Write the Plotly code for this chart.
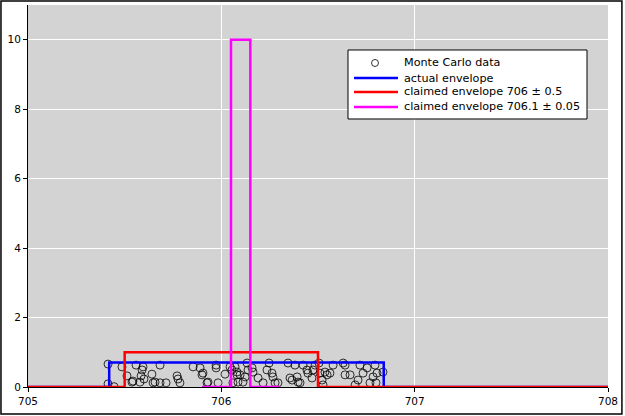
import plotly.graph_objects as go

# Monte Carlo sample points
mc_x = [705.414, 705.414, 705.445, 705.486, 705.512, 705.538, 705.543, 705.559, 705.585, 705.59,
        705.595, 705.579, 705.6, 705.641, 705.647, 705.657, 705.683, 705.683, 705.714, 705.771,
        705.776, 705.786, 705.854, 705.89, 705.9, 705.905, 705.926, 705.931, 705.973, 705.973,
        705.983, 706.019, 706.045, 706.055, 706.06, 706.081, 706.071, 706.081, 706.097, 706.086,
        706.112, 706.123, 706.133, 706.138, 706.159, 706.164, 706.19, 706.216, 706.236, 706.247,
        706.262, 706.267, 706.278, 706.293, 706.345, 706.355, 706.366, 706.381, 706.392, 706.397,
        706.407, 706.423, 706.443, 706.448, 706.469, 706.474, 706.485, 706.505, 706.51, 706.521,
        706.526, 706.536, 706.547, 706.562, 706.578, 706.63, 706.64, 706.64, 706.666, 706.692,
        706.707, 706.717, 706.733, 706.754, 706.769, 706.785, 706.795, 706.8, 706.805, 706.836]
mc_y = [0.66, 0.09, 0.01, 0.58, 0.32, 0.14, 0.17, 0.63, 0.32, 0.49,
        0.58, 0.14, 0.23, 0.37, 0.12, 0.14, 0.63, 0.12, 0.12, 0.32,
        0.23, 0.12, 0.58, 0.55, 0.35, 0.40, 0.12, 0.14, 0.63, 0.55,
        0.12, 0.37, 0.58, 0.49, 0.12, 0.35, 0.58, 0.43, 0.35, 0.14,
        0.14, 0.29, 0.69, 0.49, 0.55, 0.43, 0.26, 0.12, 0.49, 0.69,
        0.40, 0.29, 0.12, 0.12, 0.69, 0.26, 0.20, 0.63, 0.29, 0.14,
        0.12, 0.63, 0.49, 0.40, 0.26, 0.49, 0.63, 0.69, 0.40, 0.20,
        0.06, 0.43, 0.35, 0.40, 0.63, 0.69, 0.63, 0.35, 0.35, 0.06,
        0.20, 0.63, 0.40, 0.55, 0.12, 0.29, 0.63, 0.12, 0.40, 0.43]

# Envelopes (step outlines)
actual_x = [705.0, 705.42, 705.42, 706.84, 706.84, 708.0]
actual_y = [0.0, 0.0, 0.704, 0.704, 0.0, 0.0]

claim1_x = [705.0, 705.5, 705.5, 706.5, 706.5, 708.0]
claim1_y = [0.0, 0.0, 1.0, 1.0, 0.0, 0.0]

claim2_x = [705.9, 706.05, 706.05, 706.15, 706.15, 706.3]
claim2_y = [0.0, 0.0, 10.0, 10.0, 0.0, 0.0]

x_ticks = [705, 706, 707, 708]
y_ticks = [0, 2, 4, 6, 8, 10]

series_names = ["Monte Carlo data", "actual envelope",
                "claimed envelope 706 ± 0.5", "claimed envelope 706.1 ± 0.05"]
series_colors = ["black", "#0000ff", "#ff0000", "#ff00ff"]

fig = go.Figure()
fig.add_trace(go.Scatter(x=mc_x, y=mc_y, mode="markers", name=series_names[0],
                         marker=dict(symbol="circle-open", size=8, color="black",
                                     line=dict(width=0.8, color="black"))))
fig.add_trace(go.Scatter(x=actual_x, y=actual_y, mode="lines", name=series_names[1],
                         line=dict(color=series_colors[1], width=2.5)))
fig.add_trace(go.Scatter(x=claim1_x, y=claim1_y, mode="lines", name=series_names[2],
                         line=dict(color=series_colors[2], width=2.5)))
fig.add_trace(go.Scatter(x=claim2_x, y=claim2_y, mode="lines", name=series_names[3],
                         line=dict(color=series_colors[3], width=2.5)))

axis_common = dict(showgrid=True, gridcolor="white", gridwidth=1, zeroline=False,
                   ticks="outside", ticklen=4, tickcolor="black", tickwidth=1,
                   tickfont=dict(family="DejaVu Sans", size=10.5, color="black"),
                   layer="below traces", automargin=False,
                   showline=True, linecolor="black", linewidth=1, mirror=False)

fig.update_xaxes(range=[705, 708], tickvals=x_ticks, ticktext=[str(v) for v in x_ticks], **axis_common)
fig.update_yaxes(range=[0, 11], tickvals=y_ticks, ticktext=[str(v) for v in y_ticks], **axis_common)

# Hand-built legend (matplotlib-style compact rows)
shapes = [dict(type="rect", xref="paper", yref="paper",
               x0=-0.0466, x1=1.024, y0=-0.0707, y1=1.0105,
               line=dict(color="black", width=1.5), fillcolor="rgba(0,0,0,0)", layer="above"),
          dict(type="rect", xref="paper", yref="paper",
               x0=0.5517, x1=0.9638, y0=0.7016, y1=0.8822,
               line=dict(color="black", width=1), fillcolor="white", layer="above")]
row_y = [0.8482, 0.8089, 0.7723, 0.7330]
shapes.append(dict(type="circle", xref="paper", yref="paper",
                   x0=0.5983 - 0.0060, x1=0.5983 + 0.0060,
                   y0=row_y[0] - 0.0092, y1=row_y[0] + 0.0092,
                   line=dict(color="black", width=0.8), fillcolor="rgba(0,0,0,0)", layer="above"))
for i in range(1, 4):
    shapes.append(dict(type="line", xref="paper", yref="paper",
                       x0=0.5621, x1=0.6379, y0=row_y[i], y1=row_y[i],
                       line=dict(color=series_colors[i], width=2.5), layer="above"))
annotations = [dict(xref="paper", yref="paper", x=0.6448, y=row_y[i], text=series_names[i],
                    showarrow=False, xanchor="left", yanchor="middle",
                    font=dict(family="DejaVu Sans", size=11.2, color="black"))
               for i in range(4)]

fig.update_layout(
    width=625, height=416,
    margin=dict(l=28, r=17, t=5, b=29),
    paper_bgcolor="white", plot_bgcolor="#d3d3d3",
    font=dict(family="DejaVu Sans", size=11, color="black"),
    showlegend=False,
    shapes=shapes,
    annotations=annotations,
)

fig.write_html("out.html", config={"displayModeBar": False},
               post_script="document.body.style.margin='0px';")
